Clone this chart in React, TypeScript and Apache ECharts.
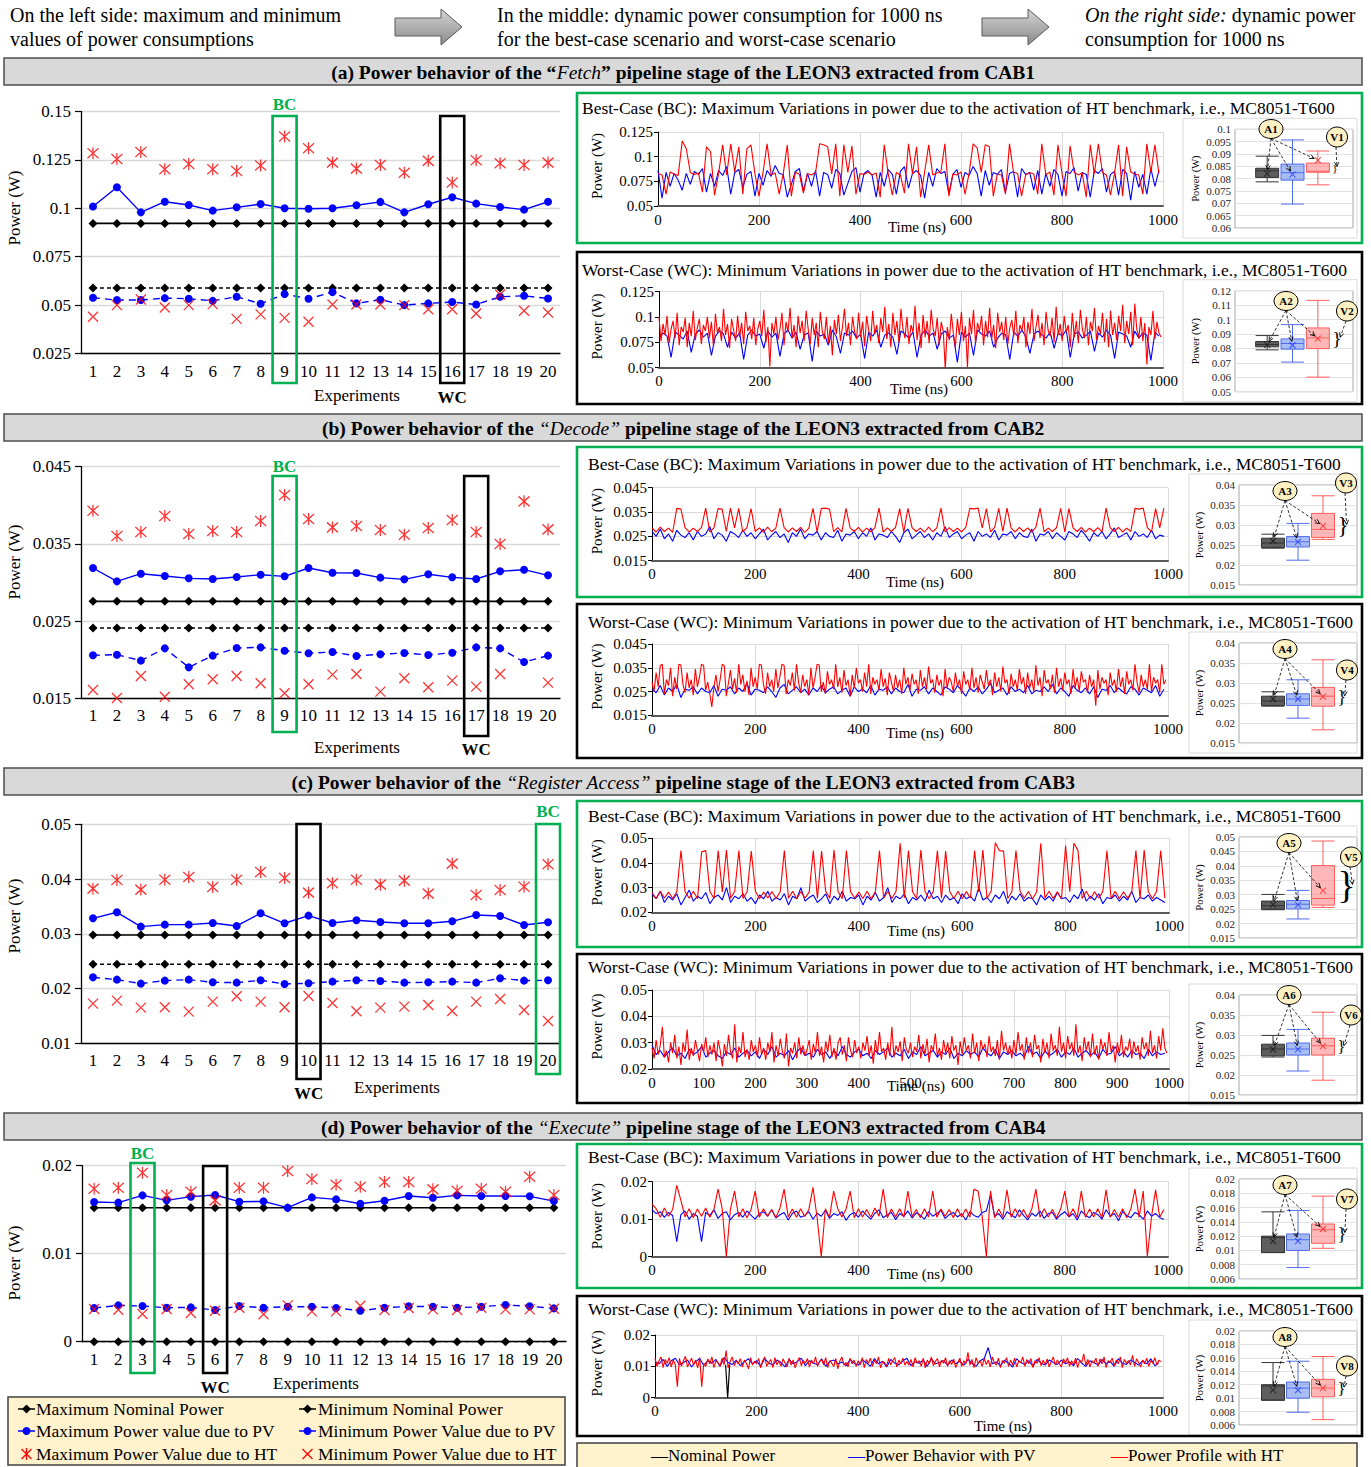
import React, { useEffect, useRef } from "react";
import * as echarts from "echarts";

const FONT = '"Liberation Serif", "Times New Roman", Times, serif';
const GREEN = "#00b050";
const BLUE = "#0000ff";
const RED = "#ff0000";

// ================= DATA =================
const EXPERIMENTS = ["1","2","3","4","5","6","7","8","9","10","11","12","13","14","15","16","17","18","19","20"];

// (a) Fetch – CAB1
const A_MAX_NOM = [0.0922,0.0922,0.0922,0.0922,0.0922,0.0922,0.0922,0.0922,0.0922,0.0922,0.0922,0.0922,0.0922,0.0922,0.0922,0.0922,0.0922,0.0922,0.0922,0.0922];
const A_MIN_NOM = [0.0588,0.0588,0.0588,0.0588,0.0588,0.0588,0.0588,0.0588,0.0588,0.0588,0.0588,0.0588,0.0588,0.0588,0.0588,0.0588,0.0588,0.0588,0.0588,0.0588];
const A_MAX_PV = [0.1009,0.1109,0.0979,0.1034,0.1017,0.0988,0.1005,0.1022,0.1000,0.0998,0.1000,0.1016,0.1033,0.0979,0.1021,0.1057,0.1024,0.1007,0.0993,0.1034];
const A_MIN_PV = [0.0538,0.0526,0.0526,0.0536,0.0533,0.0522,0.0543,0.0507,0.0557,0.0533,0.0567,0.0509,0.0528,0.0500,0.0509,0.0516,0.0503,0.0543,0.0548,0.0534];
const A_MAX_HT = [0.1284,0.1255,0.1291,0.1202,0.1229,0.1202,0.1193,0.1221,0.1371,0.1310,0.1236,0.1205,0.1224,0.1184,0.1245,0.1133,0.1248,0.1233,0.1224,0.1236];
const A_MIN_HT = [0.0440,0.0500,0.0529,0.0488,0.0500,0.0505,0.0429,0.0452,0.0434,0.0414,0.0503,0.0503,0.0503,0.0500,0.0479,0.0479,0.0457,0.0555,0.0471,0.0462];

// (b) Decode – CAB2
const B_MAX_NOM = [0.02756,0.02756,0.02756,0.02756,0.02756,0.02756,0.02756,0.02756,0.02756,0.02756,0.02756,0.02756,0.02756,0.02756,0.02756,0.02756,0.02756,0.02756,0.02756,0.02756];
const B_MIN_NOM = [0.02411,0.02411,0.02411,0.02411,0.02411,0.02411,0.02411,0.02411,0.02411,0.02411,0.02411,0.02411,0.02411,0.02411,0.02411,0.02411,0.02411,0.02411,0.02411,0.02411];
const B_MAX_PV = [0.03188,0.03015,0.03114,0.03084,0.03054,0.03045,0.03071,0.03101,0.0308,0.03188,0.03127,0.03123,0.03063,0.03041,0.03106,0.03067,0.03045,0.03145,0.03166,0.03093];
const B_MIN_PV = [0.02057,0.02065,0.01988,0.02147,0.01901,0.02053,0.02152,0.0216,0.02117,0.02083,0.021,0.02048,0.0207,0.02087,0.02061,0.02091,0.0216,0.02147,0.0197,0.02053];
const B_MAX_HT = [0.0393,0.03602,0.03654,0.03861,0.03628,0.03667,0.03654,0.03796,0.04133,0.03822,0.03714,0.03731,0.0368,0.03619,0.03706,0.03809,0.03654,0.03499,0.04051,0.03688];
const B_MIN_HT = [0.01608,0.01504,0.01789,0.01521,0.01681,0.01746,0.01789,0.01694,0.01565,0.01681,0.01807,0.01815,0.01586,0.01759,0.01643,0.01729,0.01651,0.01815,null,0.01703];

// (c) Register Access – CAB3
const C_MAX_NOM = [0.02979,0.02979,0.02979,0.02979,0.02979,0.02979,0.02979,0.02979,0.02979,0.02979,0.02979,0.02979,0.02979,0.02979,0.02979,0.02979,0.02979,0.02979,0.02979,0.02979];
const C_MIN_NOM = [0.02443,0.02443,0.02443,0.02443,0.02443,0.02443,0.02443,0.02443,0.02443,0.02443,0.02443,0.02443,0.02443,0.02443,0.02443,0.02443,0.02443,0.02443,0.02443,0.02443];
const C_MAX_PV = [0.03283,0.03393,0.03131,0.03167,0.03167,0.03198,0.03143,0.03374,0.03192,0.03332,0.03198,0.03247,0.03216,0.03192,0.03192,0.03228,0.03344,0.03326,0.03161,0.0321];
const C_MIN_PV = [0.02206,0.02163,0.0209,0.02145,0.02163,0.02114,0.02108,0.02151,0.02084,0.02096,0.02126,0.02151,0.02139,0.02108,0.02114,0.02126,0.02108,0.02187,0.02145,0.02151];
const C_MAX_HT = [0.03825,0.03983,0.03807,0.03989,0.04038,0.03855,0.03989,0.0413,0.0402,0.03752,0.03922,0.03989,0.03898,0.03971,0.03734,0.04282,0.03709,0.038,0.03861,0.04269];
const C_MIN_HT = [0.01724,0.01779,0.01651,0.01657,0.01578,0.01761,0.01858,0.01761,0.01657,0.01865,0.01736,0.01584,0.01651,0.0167,0.017,0.0159,0.01761,0.0181,0.01608,0.01408];

// (d) Execute – CAB4
const D_MAX_NOM = [0.01523,0.01523,0.01523,0.01523,0.01523,0.01523,0.01523,0.01523,0.01523,0.01523,0.01523,0.01523,0.01523,0.01523,0.01523,0.01523,0.01523,0.01523,0.01523,0.01523];
const D_MIN_NOM = [0,0,0,0,0,0,0,0,0,0,0,0,0,0,0,0,0,0,0,0];
const D_MAX_PV = [0.01587,0.0158,0.01663,0.01606,0.01648,0.01667,0.01591,0.01595,0.01523,0.0164,0.01617,0.01568,0.01602,0.01655,0.01636,0.01663,0.01655,0.01655,0.01652,0.01598];
const D_MIN_PV = [0.00383,0.00413,0.00405,0.00386,0.0039,0.0036,0.00405,0.00386,0.00398,0.00398,0.00383,0.00352,0.00386,0.00402,0.00398,0.00386,0.00398,0.00417,0.00402,0.00379];
const D_MAX_HT = [0.01739,0.0175,0.0192,0.01667,0.01705,0.01606,0.0175,0.0175,0.01939,0.01848,0.01784,0.01761,0.01814,0.01814,0.01731,0.01716,0.01739,0.01705,0.01875,0.01667];
const D_MIN_HT = [0.00371,0.00364,0.00314,0.00371,0.00326,0.00352,0.00386,0.00311,0.00413,0.00345,0.00345,0.00409,0.0036,0.00383,0.00367,0.0036,0.00386,0.00367,0.00367,0.00375];

// ---- time series over 0..1000 ns, evenly sampled; values in units of 1e-4 W ----
const TS_SPAN_NS = 1000;
const TS_UNIT = 1e-4;

const A_BC_BLUE = [
860,580,840,700,830,760,660,830,720,850,820,880,640,830,700,860,810,900,620,840,870,690,820,850,600,
830,710,860,800,910,830,820,590,720,850,880,650,830,700,860,600,840,820,680,870,830,610,730,850,890,
640,830,860,810,590,840,700,870,820,620,850,900,680,830,860,810,580,840,700,880,830,850,620,820,870,
690,840,810,900,830,600,860,710,840,820,870,640,830,850,590,880,820,840,660,860,620,830,700,870,820,
600,850,830,890,650,840,820,590,860,830,880,640,820,850,610,870,830,560,850,690,820,620,880,700,860];
const A_BC_RED = [
830,815,620,845,825,810,1160,1080,840,820,835,640,1100,1050,610,830,1120,815,1130,845,1100,620,1080,1120,825,
600,840,1130,815,835,620,825,1120,600,845,820,630,830,815,840,1130,1120,1100,825,1130,600,1120,840,1110,620,
830,820,845,815,835,590,1120,825,610,840,815,630,1130,825,1100,590,845,1120,815,835,840,1130,600,825,815,
845,620,830,1130,1090,840,1120,1100,600,825,815,620,1130,845,830,600,815,840,825,620,1130,815,845,610,1120,
830,600,1110,845,815,835,590,1120,825,1130,840,815,610,830,1120,600,1100,845,825,815,620,1130,840,1120,830];
const A_WC_BLUE = [
790,840,810,600,850,820,780,860,650,830,870,800,840,620,810,860,830,700,850,790,840,580,820,870,810,
830,690,860,800,840,610,830,870,790,850,680,820,840,560,860,810,830,720,870,800,640,840,820,860,790,
830,590,850,810,870,700,820,840,800,630,860,830,790,850,600,820,870,810,840,680,830,860,790,820,550,
850,800,840,620,870,830,810,860,700,790,840,820,580,850,810,870,800,640,830,860,820,790,850,690,840,
810,870,600,830,850,790,820,860,660,840,800,870,820,590,850,830,810,700,860,790,840,820,570,850,810];
const A_WC_RED = [
1000,760,930,820,1010,740,880,960,790,1040,720,900,850,990,700,940,810,1060,770,890,980,730,920,860,1000,
790,950,710,1030,840,900,760,1080,820,930,690,980,870,760,1010,800,940,730,1050,860,910,780,990,720,880,
960,810,1070,750,900,510,940,830,1000,770,880,1040,720,950,850,1090,790,920,700,1010,840,960,760,1060,880,
730,990,820,940,700,1050,860,780,1000,740,910,620,970,830,1020,760,900,1080,810,940,720,1000,860,780,1040,
800,950,710,1010,870,760,1060,830,920,740,990,850,1100,780,930,700,1040,820,960,750,1080,880,790,1000,730,
920,850,1110,770,940,690,1020,800,960,740,1070,880,810,990,720,950,860,480,900,770,1030,840,700,980,820,
1050,760,910,500,990,830,1070,740,940,860,1010,720,960,800,1090,780,920,690,1040,850,950,770,1000,730,890,
970,810,1060,740,920,860,1000,700,950,830,1080,760,900,1020,790,940,720,1050,870,810,990,750,1100,820,930,
760,1010,850,920,700,1040,800,960,740,1070,880,790,1000,720,950,860,1090,770,910,830,1040,750,980,700,1060,
820,940,770,1010,860,1120,740,960,830,1050,720,1130,880,790,1000,760,940,530,900,820,1060,780,950,840,800];

const B_BC_BLUE = [
270,250,280,240,260,230,275,255,245,265,235,270,250,260,290,240,265,255,230,270,260,245,275,250,265,
240,260,280,235,255,270,245,260,225,265,250,280,240,260,255,270,235,265,250,245,275,230,260,255,270,
240,265,250,285,235,260,255,245,270,250,225,265,280,240,255,270,245,260,235,265,250,290,245,260,270,
240,255,265,230,270,250,260,245,275,235,260,255,270,240,265,250,245,280,230,260,255,270,240,265,250,
235,270,260,245,275,255,230,265,250,270,240,260,285,245,255,265,235,270,250,260,245,275,240,255,250];
const B_BC_RED = [
285,268,288,270,284,266,365,362,286,268,284,270,287,366,268,285,364,362,270,366,285,365,268,286,364,
270,285,267,288,269,284,366,286,268,285,270,287,266,284,365,268,364,366,362,270,286,268,365,285,270,
287,267,284,269,286,366,268,285,270,287,364,268,365,286,270,284,267,288,269,285,366,268,286,270,284,
268,287,365,363,366,285,364,268,286,365,270,366,284,268,287,270,285,267,288,366,269,284,270,286,365,
268,364,285,270,287,267,284,269,286,268,366,285,270,287,268,284,270,365,362,366,286,268,364,285,366];
const B_WC_BLUE = [
260,245,275,235,265,250,280,225,260,255,270,240,265,250,245,275,230,260,255,270,240,265,250,285,235,
260,255,245,270,250,225,265,280,240,255,270,245,260,235,265,250,275,245,260,270,240,255,265,230,270,
250,260,245,275,235,260,255,270,240,265,250,245,280,230,260,255,270,240,265,250,235,270,260,245,275,
255,230,265,250,270,240,260,285,245,255,265,235,270,250,260,245,275,240,255,250,270,250,280,240,265,
250,230,275,255,245,265,240,270,225,260,255,275,245,265,250,240,270,260,235,265,255,245,275,230,260];
const B_WC_RED = [
290,250,330,270,360,365,240,300,275,350,230,310,260,365,362,280,245,330,265,300,235,345,270,310,365,
360,255,290,240,185,270,320,250,300,365,360,230,285,340,260,305,245,365,280,320,250,295,235,350,270,
310,260,365,362,280,240,330,270,300,250,345,265,315,365,360,240,300,275,330,255,365,290,245,320,270,
300,235,350,265,310,365,362,250,290,240,335,280,300,260,365,270,310,245,340,275,300,230,320,265,350,
285,300,250,330,270,365,240,310,280,300,255,345,270,305,235,330,290,250,320,265,300,240,350,280,310,
255,325,280,300,240,340,270,310,260,355,285,300,245,320,275,300,230,345,265,310,290,250,330,270,300,
240,335,280,300,255,350,265,310,245,320,290,260,340,275,300,235,330,270,310,250,355,285,300,240,325,
270,300,255,345,280,310,240,330,265,300,250,360,275,310,230,340,285,300,260,320,245,350,270,305,255,
330,280,300,240,345,265,310,250,335,290,300,245,320,270,300,190,340,260,310,285,300,235,330,275,300,
250,345,270,310,240,335,280,300,255,365,290,245,320,270,300,260,365,250,310,285,300,245,365,280,300];

const C_BC_BLUE = [
275,255,285,240,265,250,275,230,260,290,245,265,255,280,235,260,270,250,300,240,265,255,275,245,260,
235,270,255,285,245,260,250,275,230,265,255,300,245,260,270,240,255,275,235,265,250,285,245,260,255,
270,230,265,250,280,245,260,300,240,265,255,275,235,260,250,270,245,290,255,265,240,270,250,260,235,
275,255,265,245,300,250,260,240,270,255,285,235,265,250,275,245,260,255,230,270,250,265,245,280,255,
260,240,270,255,295,245,265,250,275,235,260,255,270,245,265,250,285,240,260,255,270,245,260,250,240];
const C_BC_RED = [
280,255,285,258,282,256,284,450,283,257,285,255,445,450,284,256,450,283,452,257,285,450,256,283,448,
285,255,282,258,284,256,283,450,257,285,255,284,258,282,450,256,448,285,257,452,283,255,450,284,258,
282,256,285,255,283,450,257,284,256,285,480,258,450,283,256,452,285,255,284,450,257,448,283,256,285,
255,284,258,450,283,452,256,285,482,450,448,256,283,450,285,257,284,255,282,480,258,285,256,283,255,
470,284,480,450,256,285,255,283,258,284,450,256,285,255,283,257,284,450,256,452,283,255,285,450,258];
const C_WC_BLUE = [
290,255,270,245,265,280,250,260,240,275,255,265,285,245,260,270,250,240,265,255,280,245,260,270,250,
265,240,275,255,285,245,260,250,270,235,265,280,250,260,245,275,255,265,240,270,250,285,255,245,265,
275,250,260,240,270,255,265,280,245,260,250,275,240,265,255,285,250,260,270,245,265,255,280,240,260,
250,270,255,265,245,280,260,250,275,240,265,255,270,250,260,245,285,255,265,240,270,250,260,275,245,
265,255,280,245,260,270,250,265,240,275,255,260,285,250,265,245,270,255,260,240,275,250,265,255,260];
const C_WC_RED = [
280,240,310,255,290,360,245,270,225,300,260,330,240,285,215,300,265,350,235,280,250,310,270,230,295,
265,320,245,290,255,300,230,310,270,210,295,250,330,265,240,370,225,285,260,340,245,275,235,310,265,
290,245,320,255,280,235,300,265,340,225,290,250,315,270,240,335,210,280,260,300,240,320,255,290,250,
275,310,235,295,260,340,250,285,225,305,265,330,245,280,235,300,320,255,290,230,320,270,245,310,260,
285,240,300,270,325,250,290,220,310,255,340,265,280,235,300,250,360,245,290,265,305,230,320,275,260,
300,245,285,265,330,240,295,255,315,225,290,270,335,250,280,235,310,260,300,240,325,270,290,215,305,
255,320,270,290,240,335,260,300,230,310,275,295,245,325,265,285,250,310,235,345,270,300,255,290,240,
310,255,340,270,295,235,320,260,300,245,330,275,290,225,315,260,300,240,335,270,290,250,360,265,300,
240,325,275,300,250,370,260,290,230,320,270,305,245,335,255,290,235,315,275,300,250,340,265,290,225,
300,260,330,245,285,270,315,240,305,265,290,235,320,275,300,250,345,260,290,240,325,270,355,280,260];

const D_BC_BLUE = [
125,115,120,105,118,110,40,112,122,100,115,108,40,118,110,125,102,115,120,98,112,118,105,122,110,
100,115,120,108,125,103,112,118,98,115,122,105,110,120,100,116,108,124,102,115,110,120,97,112,118,
105,122,110,100,116,125,104,112,118,99,115,108,122,103,117,110,100,120,108,115,124,102,112,118,106,
115,98,120,110,105,118,122,165,108,115,100,120,112,104,125,110,98,116,108,122,102,115,118,100,112,
120,106,115,98,122,110,104,118,112,100,125,108,115,96,120,110,104,118,112,100,122,108,115,104,100];
const D_BC_RED = [
140,128,105,130,108,126,190,150,106,128,104,127,108,130,105,126,180,128,0,127,175,106,128,104,126,
175,105,128,108,126,104,130,180,106,127,105,128,107,126,185,104,0,128,105,175,128,106,127,175,104,
128,106,126,105,130,108,180,104,127,106,128,105,175,107,126,104,128,106,175,105,127,108,126,104,128,
106,127,105,180,175,106,0,175,104,127,106,178,105,128,106,126,104,127,180,105,128,106,126,104,127,
175,106,128,104,175,105,127,106,128,104,178,105,126,106,128,104,127,180,105,175,0,106,178,105,126];
const D_WC_BLUE = [
115,108,122,100,118,126,105,112,120,98,115,125,103,118,110,122,100,128,112,106,120,102,115,124,108,
118,100,125,110,104,120,112,98,122,108,115,126,102,118,110,106,124,100,116,120,108,114,102,122,110,
104,120,112,100,125,108,116,98,122,110,105,118,126,102,115,110,120,100,124,108,112,118,104,120,108,
116,104,122,110,100,118,125,160,108,114,102,120,110,98,124,112,106,118,100,122,110,104,120,112,106,
120,108,114,102,125,110,100,118,112,104,122,108,116,100,124,110,106,120,112,104,118,108,124,102,112];
const D_WC_RED = [
125,100,118,130,96,122,110,128,98,120,105,35,125,100,118,132,98,112,126,104,120,95,128,35,110,
100,124,108,130,96,118,112,100,126,105,150,95,115,130,102,118,108,125,98,120,110,92,128,104,116,
108,125,95,118,130,100,112,122,96,128,105,118,100,124,110,98,126,104,120,95,115,128,102,118,110,
125,98,120,108,130,100,115,122,105,128,96,118,110,100,125,92,118,130,104,112,98,126,108,120,100,
118,104,128,96,122,110,126,100,120,108,130,95,115,112,100,125,105,118,128,98,120,108,126,104,115,
104,122,98,128,110,118,100,126,95,120,108,130,102,116,125,98,120,110,128,100,118,106,124,96,112,
126,100,118,108,145,104,122,96,128,110,118,100,125,106,120,98,130,112,104,126,96,118,110,128,100,
120,104,126,98,118,112,130,100,122,108,125,96,118,110,128,102,120,106,124,98,115,130,104,120,108,
98,124,110,128,100,118,106,126,96,120,112,140,104,122,98,118,110,126,100,124,108,130,96,118,112,
126,102,120,108,130,96,122,110,118,104,135,100,124,112,98,120,108,126,100,118,110,128,104,120,115];
// nominal (black) trace visible in (d) WC: [time ns, value 1e-4 W]
const D_WC_NOMINAL = [[139,105],[143,0],[147,105]];

// ---- box plots: [min, Q1, median, Q3, max] for Nominal, PV, HT ----
const A_BC_BOX = [[0.0787,0.0805,0.0832,0.0842,0.0891],[0.0697,0.0794,0.0824,0.0859,0.0957],[0.0775,0.0826,0.0830,0.0863,0.0912]];
const A_BC_MEAN = [0.0820,0.0817,0.0875];
const A_WC_BOX = [[0.0790,0.0811,0.0827,0.0848,0.0889],[0.0705,0.0795,0.0834,0.0866,0.0965],[0.0601,0.0799,0.0873,0.0942,0.1133]];
const A_WC_MEAN = [0.0825,0.0822,0.0868];
const B_BC_BOX = [[0.0242,0.0244,0.0255,0.0267,0.0277],[0.0212,0.0245,0.0258,0.0271,0.0304],[0.0264,0.0269,0.0289,0.0329,0.0373]];
const B_BC_MEAN = [0.0260,0.0258,0.0298];
const B_WC_BOX = [[0.0242,0.0244,0.0255,0.0267,0.0278],[0.0212,0.0244,0.0260,0.0273,0.0308],[0.0183,0.0242,0.0267,0.0289,0.0358]];
const B_WC_MEAN = [0.0260,0.0260,0.0266];
const C_BC_BOX = [[0.0248,0.0250,0.0262,0.0278,0.0301],[0.0216,0.0251,0.0267,0.0280,0.0315],[0.0256,0.0264,0.0287,0.0401,0.0486]];
const C_BC_MEAN = [0.0266,0.0265,0.0314];
const C_WC_BOX = [[0.0245,0.0248,0.0265,0.0277,0.0299],[0.0210,0.0250,0.0265,0.0280,0.0314],[0.0187,0.0250,0.0273,0.0292,0.0357]];
const C_WC_MEAN = [0.0264,0.0264,0.0272];
const D_BC_BOX = [[0.0097,0.0097,0.0118,0.0120,0.0154],[0.0076,0.0100,0.0115,0.0123,0.0156],[0.0103,0.0110,0.0129,0.0137,0.0176]];
const D_BC_MEAN = [0.0113,0.0113,0.0130];
const D_WC_BOX = [[0.0097,0.0097,0.0118,0.0120,0.0153],[0.0079,0.0100,0.0115,0.0124,0.0155],[0.0068,0.0102,0.0115,0.0128,0.0162]];
const D_WC_MEAN = [0.0112,0.0112,0.0115];
const BOX_CATEGORIES = ["Nominal", "PV", "HT"];

// ================= LAYOUT =================
const SECTIONS: any[] = [
  {
    tag: "(a)", stage: "Fetch", cab: "CAB1", barY: 58, quoteItalic: false,
    left: { left: 81, top: 111.5, width: 479, height: 242, min: 0.025, max: 0.15, interval: 0.025,
      data: [A_MAX_NOM, A_MIN_NOM, A_MAX_PV, A_MIN_PV, A_MAX_HT, A_MIN_HT],
      bc: { idx: 8, top: 116, bottom: 383, textY: 104 }, wc: { idx: 15, top: 116, bottom: 383, textY: 397 },
      powerY: 208, exp: [357, 395] },
    panels: [
      { kind: "BC", rect: [577, 93, 785, 150], title: [582, 108],
        ts: { left: 658, top: 132, width: 505, height: 74, min: 0.05, max: 0.125, interval: 0.025, xInterval: 200 },
        blue: A_BC_BLUE, red: A_BC_RED, time: [917, 227],
        box: { left: 1235, top: 129.3, width: 118, height: 98.7, bleft: 1254.5, bwidth: 76, min: 0.06, max: 0.1, interval: 0.005,
          stats: A_BC_BOX, means: A_BC_MEAN, A: [1271, 129], V: [1337, 137], n: 1, frameX: 1183 } },
      { kind: "WC", rect: [577, 252, 785, 152], title: [582, 270],
        ts: { left: 659, top: 291.5, width: 504, height: 76, min: 0.05, max: 0.125, interval: 0.025, xInterval: 200 },
        blue: A_WC_BLUE, red: A_WC_RED, time: [919, 389],
        box: { left: 1235, top: 290.7, width: 118, height: 101, bleft: 1254.5, bwidth: 76, min: 0.05, max: 0.12, interval: 0.01,
          stats: A_WC_BOX, means: A_WC_MEAN, A: [1286, 301], V: [1347, 311], n: 2, frameX: 1183 } },
    ],
  },
  {
    tag: "(b)", stage: "Decode", cab: "CAB2", barY: 414, quoteItalic: true,
    left: { left: 81, top: 466.7, width: 479, height: 231.6, min: 0.015, max: 0.045, interval: 0.01,
      data: [B_MAX_NOM, B_MIN_NOM, B_MAX_PV, B_MIN_PV, B_MAX_HT, B_MIN_HT],
      bc: { idx: 8, top: 476, bottom: 732, textY: 466 }, wc: { idx: 16, top: 476, bottom: 736, textY: 749 },
      powerY: 562, exp: [357, 747] },
    panels: [
      { kind: "BC", rect: [577, 447, 785, 150], title: [588, 464],
        ts: { left: 652, top: 487.7, width: 516, height: 73, min: 0.015, max: 0.045, interval: 0.01, xInterval: 200 },
        blue: B_BC_BLUE, red: B_BC_RED, time: [915, 582],
        box: { left: 1239, top: 485, width: 118, height: 100, bleft: 1260.5, bwidth: 75, min: 0.015, max: 0.04, interval: 0.005,
          stats: B_BC_BOX, means: B_BC_MEAN, A: [1285, 491], V: [1346, 483], n: 3, frameX: 1189 } },
      { kind: "WC", rect: [577, 604, 785, 154], title: [588, 622],
        ts: { left: 652, top: 644, width: 516, height: 71.3, min: 0.015, max: 0.045, interval: 0.01, xInterval: 200 },
        blue: B_WC_BLUE, red: B_WC_RED, time: [915, 733],
        box: { left: 1239, top: 643, width: 118, height: 100, bleft: 1260.5, bwidth: 75, min: 0.015, max: 0.04, interval: 0.005,
          stats: B_WC_BOX, means: B_WC_MEAN, A: [1285, 649], V: [1347, 670], n: 4, frameX: 1189 } },
    ],
  },
  {
    tag: "(c)", stage: "Register Access", cab: "CAB3", barY: 768, quoteItalic: true,
    left: { left: 81, top: 824.3, width: 479, height: 219, min: 0.01, max: 0.05, interval: 0.01,
      data: [C_MAX_NOM, C_MIN_NOM, C_MAX_PV, C_MIN_PV, C_MAX_HT, C_MIN_HT],
      bc: { idx: 19, top: 824, bottom: 1074, textY: 811 }, wc: { idx: 9, top: 824, bottom: 1079, textY: 1093 },
      powerY: 916, exp: [397, 1087] },
    panels: [
      { kind: "BC", rect: [577, 801, 785, 146], title: [588, 816],
        ts: { left: 652, top: 838.3, width: 517, height: 74, min: 0.02, max: 0.05, interval: 0.01, xInterval: 200 },
        blue: C_BC_BLUE, red: C_BC_RED, time: [916, 931],
        box: { left: 1239, top: 837, width: 118, height: 101, bleft: 1260.5, bwidth: 75, min: 0.015, max: 0.05, interval: 0.005,
          stats: C_BC_BOX, means: C_BC_MEAN, A: [1289, 843], V: [1351, 857], n: 5, frameX: 1189 } },
      { kind: "WC", rect: [577, 954, 785, 149], title: [588, 967],
        ts: { left: 652, top: 990, width: 517, height: 79, min: 0.02, max: 0.05, interval: 0.01, xInterval: 100 },
        blue: C_WC_BLUE, red: C_WC_RED, time: [916, 1086],
        box: { left: 1239, top: 995, width: 118, height: 100, bleft: 1260.5, bwidth: 75, min: 0.015, max: 0.04, interval: 0.005,
          stats: C_WC_BOX, means: C_WC_MEAN, A: [1289, 995], V: [1351, 1015], n: 6, frameX: 1189 } },
    ],
  },
  {
    tag: "(d)", stage: "Execute", cab: "CAB4", barY: 1113, quoteItalic: true,
    left: { left: 82, top: 1165.7, width: 484, height: 176, min: 0, max: 0.02, interval: 0.01,
      data: [D_MAX_NOM, D_MIN_NOM, D_MAX_PV, D_MIN_PV, D_MAX_HT, D_MIN_HT],
      bc: { idx: 2, top: 1163, bottom: 1373, textY: 1153 }, wc: { idx: 5, top: 1166, bottom: 1373, textY: 1387 },
      powerY: 1263, exp: [316, 1383] },
    panels: [
      { kind: "BC", rect: [577, 1144, 785, 144], title: [588, 1157],
        ts: { left: 652, top: 1181.7, width: 516, height: 75, min: 0, max: 0.02, interval: 0.01, xInterval: 200 },
        blue: D_BC_BLUE, red: D_BC_RED, time: [916, 1274],
        box: { left: 1239, top: 1179, width: 118, height: 100, bleft: 1260.5, bwidth: 75, min: 0.006, max: 0.02, interval: 0.002,
          stats: D_BC_BOX, means: D_BC_MEAN, A: [1285, 1185], V: [1347, 1199], n: 7, frameX: 1189 } },
      { kind: "WC", rect: [577, 1296, 785, 140], title: [588, 1309],
        ts: { left: 655, top: 1335, width: 508, height: 62.7, min: 0, max: 0.02, interval: 0.01, xInterval: 200 },
        blue: D_WC_BLUE, red: D_WC_RED, black: D_WC_NOMINAL, time: [1003, 1426],
        box: { left: 1239, top: 1331, width: 118, height: 94, bleft: 1260.5, bwidth: 75, min: 0.006, max: 0.02, interval: 0.002,
          stats: D_WC_BOX, means: D_WC_MEAN, A: [1285, 1337], V: [1347, 1366], n: 8, frameX: 1189 } },
    ],
  },
];

const XPATH = "path://M0,0L10,10M10,0L0,10";
const ASTER = "path://M0,1L10,11M10,1L0,11M5,0L5,12";
const BOX_STYLE = [
  { color: "#5e5e5e", borderColor: "#333333", borderWidth: 1 },
  { color: "rgba(110,145,235,0.6)", borderColor: "#4f6cf0", borderWidth: 1 },
  { color: "rgba(255,135,135,0.6)", borderColor: "#ff5c5c", borderWidth: 1 },
];
const MEAN_COLOR = ["#1a1a1a", "#2a3cff", "#ff2a2a"];

const tsPairs = (vals: number[]) => {
  const step = TS_SPAN_NS / vals.length;
  return vals.map((v, i) => [i * step, v * TS_UNIT]);
};

function buildOption() {
  const grid: any[] = [], xAxis: any[] = [], yAxis: any[] = [], series: any[] = [];
  const add = (g: any, xa: any, ya: any) => {
    const i = grid.length;
    grid.push(g); xAxis.push({ ...xa, gridIndex: i }); yAxis.push({ ...ya, gridIndex: i });
    return i;
  };
  const lbl = (size: number, margin: number, color = "#000") => ({ color, fontSize: size, fontFamily: FONT, margin });
  const plain = (v: number) => String(+v.toFixed(6));
  const refs: any = { left: [], box: [] };

  SECTIONS.forEach((sec) => {
    const L = sec.left;
    const li = add(
      { left: L.left, top: L.top, width: L.width, height: L.height },
      { type: "category", data: EXPERIMENTS, boundaryGap: true, axisLine: { lineStyle: { color: "#000", width: 1.3 } },
        axisTick: { show: false }, axisLabel: { ...lbl(17, 9), interval: 0 }, splitLine: { show: false } },
      { type: "value", min: L.min, max: L.max, interval: L.interval,
        axisLine: { show: true, lineStyle: { color: "#000", width: 1.3 } },
        axisTick: { show: true, length: 6, lineStyle: { color: "#000", width: 1.2 } },
        axisLabel: { ...lbl(17, 10), formatter: plain }, splitLine: { lineStyle: { color: "#d9d9d9", width: 1.3 } } }
    );
    refs.left.push(li);
    const [maxNom, minNom, maxPV, minPV, maxHT, minHT] = L.data;
    const common = { xAxisIndex: li, yAxisIndex: li, silent: true };
    series.push(
      { ...common, type: "line", name: "Maximum Nominal Power", data: maxNom, symbol: "diamond", symbolSize: 9,
        itemStyle: { color: "#000" }, lineStyle: { color: "#000", width: 1.6 }, z: 3 },
      { ...common, type: "line", name: "Minimum Nominal Power", data: minNom, symbol: "diamond", symbolSize: 9,
        itemStyle: { color: "#000" }, lineStyle: { color: "#000", width: 1.6, type: [4, 3] }, z: 3 },
      { ...common, type: "line", name: "Maximum Power value due to PV", data: maxPV, symbol: "circle", symbolSize: 8,
        itemStyle: { color: BLUE }, lineStyle: { color: BLUE, width: 1.4 }, z: 4 },
      { ...common, type: "line", name: "Minimum Power Value due to PV", data: minPV, symbol: "circle", symbolSize: 8,
        itemStyle: { color: BLUE }, lineStyle: { color: BLUE, width: 1.4, type: [7, 5] }, z: 4 },
      { ...common, type: "scatter", name: "Maximum Power Value due to HT", data: maxHT, symbol: ASTER, symbolSize: [11, 12],
        itemStyle: { color: "none", borderColor: RED, borderWidth: 1.3 }, z: 5 },
      { ...common, type: "scatter", name: "Minimum Power Value due to HT", data: minHT, symbol: XPATH, symbolSize: 10,
        itemStyle: { color: "none", borderColor: RED, borderWidth: 1.3 }, z: 5 }
    );

    sec.panels.forEach((p: any) => {
      const T = p.ts;
      const ti = add(
        { left: T.left, top: T.top, width: T.width, height: T.height },
        { type: "value", min: 0, max: 1000, interval: T.xInterval,
          axisLine: { show: true, onZero: false, lineStyle: { color: "#595959", width: 2 } },
          axisTick: { show: false }, splitLine: { show: true, lineStyle: { color: "#d9d9d9", width: 1 } },
          axisLabel: { ...lbl(15, 6), formatter: plain } },
        { type: "value", min: T.min, max: T.max, interval: T.interval,
          axisLine: { show: true, onZero: false, lineStyle: { color: "#000", width: 1 } },
          axisTick: { show: true, length: 4, lineStyle: { color: "#000" } },
          splitLine: { lineStyle: { color: "#d9d9d9", width: 1 } }, axisLabel: { ...lbl(15, 5), formatter: plain } }
      );
      const tc = { xAxisIndex: ti, yAxisIndex: ti, type: "line", showSymbol: false, symbol: "none", silent: true };
      if (p.black) {
        series.push({ ...tc, name: "Nominal Power", data: p.black.map((d: number[]) => [d[0], d[1] * TS_UNIT]),
          lineStyle: { color: "#000", width: 1.2 }, z: 1 });
      }
      series.push(
        { ...tc, name: "Power Behavior with PV", data: tsPairs(p.blue), lineStyle: { color: BLUE, width: 1.1 }, z: 2 },
        { ...tc, name: "Power Profile with HT", data: tsPairs(p.red), lineStyle: { color: RED, width: 1.1 }, z: 3 }
      );

      const B = p.box;
      const ai = add(
        { left: B.left, top: B.top, width: B.width, height: B.height, show: true, borderColor: "#a6a6a6", borderWidth: 1 },
        { type: "category", data: ["x"], show: false },
        { type: "value", min: B.min, max: B.max, interval: B.interval, axisLine: { show: false }, axisTick: { show: false },
          splitLine: { lineStyle: { color: "#e2e2e2", width: 1 } }, axisLabel: { ...lbl(11, 4, "#262626"), formatter: plain } }
      );
      const bi = add(
        { left: B.bleft, top: B.top, width: B.bwidth, height: B.height },
        { type: "category", data: BOX_CATEGORIES, show: false, boundaryGap: true },
        { type: "value", min: B.min, max: B.max, show: false, splitLine: { show: false } }
      );
      refs.box.push({ p, ai, bi });
      series.push(
        { type: "boxplot", xAxisIndex: bi, yAxisIndex: bi, silent: true, boxWidth: [23, 23],
          data: B.stats.map((s: number[], j: number) => ({ value: s, itemStyle: BOX_STYLE[j] })), z: 3 },
        { type: "scatter", xAxisIndex: bi, yAxisIndex: bi, silent: true, symbol: XPATH, symbolSize: 6,
          data: B.means.map((m: number, j: number) => ({ value: [j, m],
            itemStyle: { color: "none", borderColor: MEAN_COLOR[j], borderWidth: 1.1 } })), z: 4 }
      );
    });
  });

  return {
    option: { animation: false, textStyle: { fontFamily: FONT }, grid, xAxis, yAxis, series },
    refs,
  };
}

function buildGraphics(chart: any, refs: any) {
  const G: any[] = [];
  const T = (x: number, y: number, text: string, o: any = {}) => {
    const style: any = {
      text, fill: o.fill ?? "#000", fontFamily: FONT, fontSize: o.size ?? 17,
      fontWeight: o.weight ?? "normal", fontStyle: o.style ?? "normal",
      textAlign: o.align ?? "left", textVerticalAlign: o.valign ?? "middle",
    };
    if (o.rich) style.rich = o.rich;
    G.push({ type: "text", x, y, rotation: o.rot ?? 0, z: o.z ?? 60, silent: true, style });
  };
  const R = (x: number, y: number, w: number, h: number, style: any, z = 40) =>
    G.push({ type: "rect", shape: { x, y, width: w, height: h }, style: { fill: "none", ...style }, z, silent: true });
  const arrow = (x1: number, y1: number, x2: number, y2: number) => {
    const a = Math.atan2(y2 - y1, x2 - x1), L = 5, s = 0.45;
    G.push({ type: "line", shape: { x1, y1, x2, y2 }, style: { stroke: "#000", lineWidth: 0.8, lineDash: [3, 2] }, z: 70, silent: true });
    G.push({ type: "polyline", z: 70, silent: true,
      shape: { points: [[x2 - L * Math.cos(a - s), y2 - L * Math.sin(a - s)], [x2, y2], [x2 - L * Math.cos(a + s), y2 - L * Math.sin(a + s)]] },
      style: { stroke: "#000", lineWidth: 0.9, fill: "none" } });
  };
  const italicRich = (size: number, weight = "normal") => ({ i: { fontStyle: "italic", fontWeight: weight, fontSize: size, fontFamily: FONT } });

  // --- header ---
  const HS = 20;
  T(10, 15, "On the left side: maximum and minimum", { size: HS });
  T(10, 39, "values of power consumptions", { size: HS });
  T(497, 15, "In the middle: dynamic power consumption for 1000 ns", { size: HS });
  T(497, 39, "for the best-case scenario and worst-case scenario", { size: HS });
  T(1085, 15, "{i|On the right side:} dynamic power", { size: HS, rich: italicRich(HS) });
  T(1085, 39, "consumption for 1000 ns", { size: HS });
  const arrowFill = new echarts.graphic.LinearGradient(0, 0, 0, 1, [
    { offset: 0, color: "#d4d4d4" }, { offset: 1, color: "#8a8a8a" },
  ]);
  [395, 982].forEach((x0) => {
    G.push({ type: "polygon", silent: true, z: 40,
      shape: { points: [[x0, 18], [x0 + 46, 18], [x0 + 46, 9], [x0 + 67, 27], [x0 + 46, 45], [x0 + 46, 36], [x0, 36]] },
      style: { fill: arrowFill, stroke: "#5a5a5a", lineWidth: 1 } });
  });

  // --- sections ---
  SECTIONS.forEach((sec, si) => {
    R(4, sec.barY, 1358, 27, { fill: "#d9d9d9", stroke: "#4d4d4d", lineWidth: 1.5 }, 10);
    const q1 = "\u201C", q2 = "\u201D";
    const title = sec.quoteItalic
      ? `${sec.tag} Power behavior of the {i|${q1}${sec.stage}${q2}} pipeline stage of the LEON3 extracted from ${sec.cab}`
      : `${sec.tag} Power behavior of the ${q1}{i|${sec.stage}}${q2} pipeline stage of the LEON3 extracted from ${sec.cab}`;
    T(683, sec.barY + 14, title, { size: 19.5, weight: "bold", align: "center", rich: italicRich(19.5) });

    // left chart decorations
    const L = sec.left;
    const li = refs.left[si];
    const cx = (idx: number) => chart.convertToPixel({ xAxisIndex: li, yAxisIndex: li }, [idx, L.min])[0];
    const bx = cx(L.bc.idx), wx = cx(L.wc.idx);
    R(bx - 12, L.bc.top, 24, L.bc.bottom - L.bc.top, { stroke: GREEN, lineWidth: 2.6 }, 80);
    R(wx - 12, L.wc.top, 24, L.wc.bottom - L.wc.top, { stroke: "#000", lineWidth: 2.6 }, 80);
    T(bx, L.bc.textY, "BC", { size: 17, weight: "bold", fill: GREEN, align: "center" });
    T(wx, L.wc.textY, "WC", { size: 17, weight: "bold", align: "center" });
    T(14, L.powerY, "Power (W)", { size: 17, rot: Math.PI / 2, align: "center" });
    T(L.exp[0], L.exp[1], "Experiments", { size: 17, align: "center" });
  });

  // --- middle / right panels ---
  refs.box.forEach(({ p, bi }: any) => {
    const isBC = p.kind === "BC";
    R(p.rect[0], p.rect[1], p.rect[2], p.rect[3], { stroke: isBC ? GREEN : "#000", lineWidth: 2.6 }, 30);
    T(p.title[0], p.title[1], isBC
      ? "Best-Case (BC): Maximum Variations in power due to the activation of HT benchmark, i.e., MC8051-T600"
      : "Worst-Case (WC): Minimum Variations in power due to the activation of HT benchmark, i.e., MC8051-T600", { size: 17.5 });
    const ts = p.ts;
    T(597, ts.top + ts.height / 2 - 3, "Power (W)", { size: 15, rot: Math.PI / 2, align: "center" });
    T(p.time[0], p.time[1], "Time (ns)", { size: 15, align: "center" });

    const B = p.box;
    R(B.frameX, B.top - 11, 1357 - B.frameX, B.height + 21, { stroke: "#d9d9d9", lineWidth: 1 }, 20);
    T(B.left - 40, B.top + B.height / 2, "Power (W)", { size: 10.5, rot: Math.PI / 2, align: "center" });

    const px = (j: number, v: number) => chart.convertToPixel({ xAxisIndex: bi, yAxisIndex: bi }, [j, v]);
    const red = B.stats[2];
    const yq3 = px(2, red[3])[1], yq1 = px(2, red[1])[1];
    const redRight = px(2, red[2])[0] + 11.5;
    const bh = Math.max(12, yq1 - yq3);
    const bSize = bh * 0.95;
    const braceX = redRight + 3;
    const braceMid = (yq1 + yq3) / 2;
    T(braceX, braceMid, "}", { size: bSize, align: "left", z: 75 });

    // arrows from A to the means
    const ry = 9.5;
    const sx = B.A[0], sy = B.A[1] + ry;
    B.means.forEach((m: number, j: number) => {
      const [mx, my] = px(j, m);
      const d = Math.hypot(mx - sx, my - sy);
      arrow(sx, sy, mx - ((mx - sx) / d) * 4, my - ((my - sy) / d) * 4);
    });
    arrow(B.V[0] - 1, B.V[1] + 10, braceX + bSize * 0.4, braceMid - 1);

    G.push({ type: "ellipse", shape: { cx: B.A[0], cy: B.A[1], rx: 12, ry }, z: 76, silent: true,
      style: { fill: "#fdf1c4", stroke: "#000", lineWidth: 1 } });
    G.push({ type: "ellipse", shape: { cx: B.V[0], cy: B.V[1], rx: 10.5, ry: 10 }, z: 76, silent: true,
      style: { fill: "#fdf1c4", stroke: "#000", lineWidth: 1 } });
    T(B.A[0], B.A[1], "A" + B.n, { size: 11, weight: "bold", align: "center", z: 77 });
    T(B.V[0], B.V[1], "V" + B.n, { size: 11, weight: "bold", align: "center", z: 77 });
  });

  // --- left legend ---
  R(8, 1397, 557, 68, { fill: "#fff2cc", stroke: "#404040", lineWidth: 1.5 }, 15);
  const rows = [1409, 1431, 1454];
  const cols = [[18, 36], [299, 318]];
  const legendText = [
    ["Maximum Nominal Power", "Minimum Nominal Power"],
    ["Maximum Power value due to PV", "Minimum Power Value due to PV"],
    ["Maximum Power Value due to HT", "Minimum Power Value due to HT"],
  ];
  rows.forEach((y, r) => {
    cols.forEach(([x0, tx], c) => {
      const mid = x0 + 8.5;
      if (r < 2) {
        const col = r === 0 ? "#000" : BLUE;
        G.push({ type: "line", shape: { x1: x0, y1: y, x2: x0 + 17, y2: y }, style: { stroke: col, lineWidth: 1.5 }, z: 60, silent: true });
        if (r === 0) {
          G.push({ type: "polygon", shape: { points: [[mid, y - 4.5], [mid + 4.5, y], [mid, y + 4.5], [mid - 4.5, y]] },
            style: { fill: "#000" }, z: 61, silent: true });
        } else {
          G.push({ type: "circle", shape: { cx: mid, cy: y, r: 4 }, style: { fill: BLUE }, z: 61, silent: true });
        }
      } else {
        const h = 5;
        G.push({ type: "polyline", shape: { points: [[mid - h, y - h], [mid + h, y + h]] }, style: { stroke: RED, lineWidth: 1.3 }, z: 61, silent: true });
        G.push({ type: "polyline", shape: { points: [[mid + h, y - h], [mid - h, y + h]] }, style: { stroke: RED, lineWidth: 1.3 }, z: 61, silent: true });
        if (c === 0) {
          G.push({ type: "polyline", shape: { points: [[mid, y - 6], [mid, y + 6]] }, style: { stroke: RED, lineWidth: 1.3 }, z: 61, silent: true });
        }
      }
      T(tx, y, legendText[r][c], { size: 17.5 });
    });
  });

  // --- right legend ---
  R(577, 1443, 780, 30, { fill: "#fff2cc", stroke: "#404040", lineWidth: 1.5 }, 15);
  const dashRich = {
    k: { fill: "#000", fontSize: 17, fontFamily: FONT },
    b: { fill: BLUE, fontSize: 17, fontFamily: FONT },
    r: { fill: RED, fontSize: 17, fontFamily: FONT },
  };
  T(651, 1455, "{k|\u2014}Nominal Power", { size: 17, rich: dashRich });
  T(848, 1455, "{b|\u2014}Power Behavior with PV", { size: 17, rich: dashRich });
  T(1111, 1455, "{r|\u2014}Power Profile with HT", { size: 17, rich: dashRich });

  return G;
}

export default function App() {
  const ref = useRef<HTMLDivElement>(null);
  useEffect(() => {
    if (!ref.current) return;
    const chart = echarts.init(ref.current, null, { renderer: "svg" });
    const { option, refs } = buildOption();
    chart.setOption(option);
    chart.setOption({ graphic: { elements: buildGraphics(chart, refs) } });
    return () => chart.dispose();
  }, []);
  return (
    <div
      ref={ref}
      style={{ position: "absolute", left: 0, top: 0, width: 1371, height: 1467, background: "#fff" }}
    />
  );
}
